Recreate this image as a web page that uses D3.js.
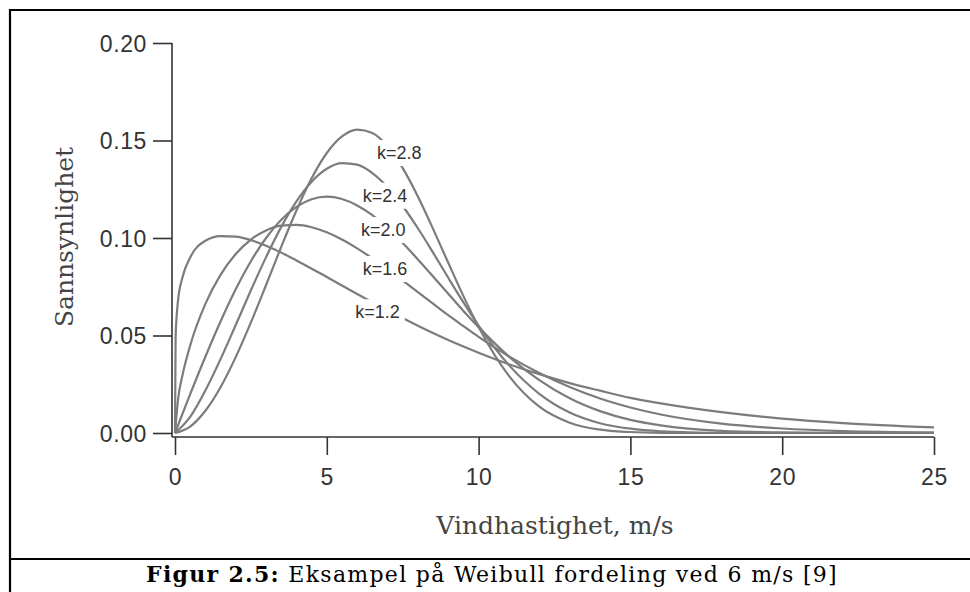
<!DOCTYPE html>
<html>
<head>
<meta charset="utf-8">
<script src="https://cdn.jsdelivr.net/npm/d3@7"></script>
<style>
  body { margin: 0; background: #fff; }
  .chart { width: 970px; height: 592px; }
  .axis text { font-family: "Liberation Sans", Arial, sans-serif; font-size: 23px; fill: #333; letter-spacing: 0.6px; }
  .axis line { stroke: #333; stroke-width: 1.6; }
  .axis__title { font-family: "DejaVu Serif", serif; font-size: 25px; fill: #444; }
  .curve { fill: none; stroke: #7c7c7c; stroke-width: 2.2; }
  .curve__label { font-family: "Liberation Sans", Arial, sans-serif; font-size: 18px; fill: #333; }
  .caption { font-family: "DejaVu Serif", serif; font-size: 22px; letter-spacing: 1.3px; fill: #000; }
  .frame { stroke: #000; stroke-width: 2.2; }
</style>
</head>
<body>
<div class="chart"></div>
<script>
/* global d3 */

// Weibull curves, values (wind speed m/s, probability)
const k12 = [[0, 0], [0.02, 0.049], [0.05, 0.059], [0.1, 0.068], [0.25, 0.080], [0.5, 0.090], [1, 0.0986], [1.5, 0.101], [2, 0.1007], [2.5, 0.0989], [3, 0.096], [3.5, 0.0925], [4, 0.0885], [5, 0.080], [6, 0.0713], [7, 0.0629], [8, 0.055], [9, 0.0477], [10, 0.0412], [11, 0.0353], [12, 0.0302], [13, 0.0256], [14, 0.0217], [15, 0.0180], [16, 0.0152], [18, 0.0107], [20, 0.0074], [22, 0.0051], [25, 0.0029]]
const k16 = [[0, 0], [0.1, 0.0173], [0.25, 0.0299], [0.5, 0.0449], [1, 0.0662], [1.5, 0.0811], [2, 0.0918], [2.5, 0.0992], [3, 0.1039], [3.5, 0.1063], [4, 0.1067], [4.5, 0.1055], [5, 0.1029], [5.5, 0.0992], [6, 0.0947], [6.5, 0.0896], [7, 0.0841], [7.5, 0.0782], [8, 0.0723], [8.5, 0.0663], [9, 0.0604], [9.5, 0.0548], [10, 0.0493], [11, 0.0393], [12, 0.0308], [13, 0.0236], [14, 0.0177], [15, 0.0131], [16, 0.0095], [18, 0.0048], [20, 0.0023], [22, 0.0010], [25, 0.0003]]
const k20 = [[0, 0], [0.5, 0.0199], [1, 0.0391], [1.5, 0.0572], [2, 0.0737], [2.5, 0.0881], [3, 0.1000], [3.5, 0.1094], [4, 0.1160], [4.5, 0.1199], [5, 0.1212], [5.5, 0.1200], [6, 0.1167], [6.5, 0.1117], [7, 0.1051], [7.5, 0.0974], [8, 0.0890], [8.5, 0.0803], [9, 0.0714], [9.5, 0.0626], [10, 0.0543], [11, 0.0392], [12, 0.0271], [13, 0.0178], [14, 0.0112], [15, 0.0067], [16, 0.0039], [18, 0.0011], [20, 0.0003], [22, 0.0001], [25, 0]]
const k24 = [[0, 0], [0.5, 0.0083], [1, 0.0218], [1.5, 0.0379], [2, 0.0554], [2.5, 0.0732], [3, 0.0902], [3.5, 0.1057], [4, 0.1188], [4.5, 0.1289], [5, 0.1355], [5.5, 0.1384], [6, 0.1376], [6.5, 0.1333], [7, 0.1261], [7.5, 0.1164], [8, 0.1050], [8.5, 0.0925], [9, 0.0796], [9.5, 0.0670], [10, 0.0551], [11, 0.0348], [12, 0.0201], [13, 0.0105], [14, 0.0050], [15, 0.0022], [16, 0.0009], [18, 0.0001], [20, 0], [25, 0]]
const k28 = [[0, 0], [0.5, 0.0033], [1, 0.0114], [1.5, 0.0235], [2, 0.0389], [2.5, 0.0567], [3, 0.0759], [3.5, 0.0955], [4, 0.1141], [4.5, 0.1306], [5, 0.1436], [5.5, 0.1521], [6, 0.1556], [6.5, 0.1538], [7, 0.1470], [7.5, 0.1358], [8, 0.1213], [8.5, 0.1047], [9, 0.0873], [9.5, 0.0702], [10, 0.0544], [11, 0.0293], [12, 0.0135], [13, 0.0053], [14, 0.0017], [15, 0.0005], [16, 0.0001], [18, 0], [25, 0]]

const seriesNames = ['k=1.2', 'k=1.6', 'k=2.0', 'k=2.4', 'k=2.8']
const seriesValues = [k12, k16, k20, k24, k28]

const xTicks = [0, 5, 10, 15, 20, 25]
const yTicks = [0, 0.05, 0.10, 0.15, 0.20]

const xTitle = 'Vindhastighet, m/s'
const yTitle = 'Sannsynlighet'
const captionBold = 'Figur 2.5:'
const captionText = ' Eksampel på Weibull fordeling ved 6 m/s [9]'

// where each label sits on its curve (data units, centre / baseline)
const labelAt = [[6.67, 0.0588], [6.92, 0.081], [6.86, 0.101], [6.92, 0.1186], [7.39, 0.1405]]

const width = 970
const height = 592

const svg = d3.select('.chart')
  .append('svg')
  .attr('width', width)
  .attr('height', height)

const x = d3.scaleLinear()
  .domain([0, 25])
  .range([175, 934])

const y = d3.scaleLinear()
  .domain([0, 0.2])
  .range([433, 43])

const axisX0 = 172   // y axis line sits a little left of x=0
const axisY0 = 437   // x axis line a little below y=0

// frame round figure and caption
svg.append('line').attr('class', 'frame').attr('x1', 10).attr('x2', width).attr('y1', 10).attr('y2', 10)
svg.append('line').attr('class', 'frame').attr('x1', 10).attr('x2', 10).attr('y1', 9).attr('y2', height)
svg.append('line').attr('class', 'frame').attr('x1', 10).attr('x2', width).attr('y1', 559).attr('y2', 559)

// Y axis
const gy = svg.append('g')
  .attr('class', 'axis axis__y')
  .attr('transform', `translate(${axisX0}, 0)`)
  .call(
    d3.axisLeft(y)
      .tickValues(yTicks)
      .tickSize(19)
      .tickSizeOuter(0)
      .tickPadding(6)
      .tickFormat(d3.format('.2f'))
  )
gy.select('.domain').remove()
gy.selectAll('text').attr('dy', '0.36em')
gy.append('line')
  .attr('x1', 0).attr('x2', 0)
  .attr('y1', y(0.2)).attr('y2', axisY0)

// X axis
const gx = svg.append('g')
  .attr('class', 'axis axis__x')
  .attr('transform', `translate(0, ${axisY0})`)
  .call(
    d3.axisBottom(x)
      .tickValues(xTicks)
      .tickSize(18)
      .tickSizeOuter(0)
      .tickPadding(14)
  )
gx.select('.domain').remove()
gx.append('line')
  .attr('x1', axisX0).attr('x2', x(25))
  .attr('y1', 0).attr('y2', 0)

// axis titles
svg.append('text')
  .attr('class', 'axis__title')
  .attr('text-anchor', 'middle')
  .attr('transform', `translate(73, 237) rotate(-90)`)
  .text(yTitle)

svg.append('text')
  .attr('class', 'axis__title')
  .attr('text-anchor', 'middle')
  .attr('x', 555)
  .attr('y', 534)
  .text(xTitle)

// caption
const caption = svg.append('text')
  .attr('class', 'caption')
  .attr('text-anchor', 'middle')
  .attr('x', 492)
  .attr('y', 582)
caption.append('tspan').attr('font-weight', 'bold').text(captionBold)
caption.append('tspan').text(captionText)

// labels first, so each curve can be masked where its own label sits
const defs = svg.append('defs')
const line = d3.line()
  .x(d => x(d[0]))
  .y(d => y(d[1]))
  .curve(d3.curveMonotoneX)

const curves = svg.append('g')
const labels = svg.append('g')

seriesNames.forEach((name, i) => {
  const label = labels.append('text')
    .attr('class', 'curve__label')
    .attr('text-anchor', 'middle')
    .attr('x', x(labelAt[i][0]))
    .attr('y', y(labelAt[i][1]))
    .text(name)

  const box = label.node().getBBox()
  const mask = defs.append('mask')
    .attr('id', `mask-${i}`)
    .attr('maskUnits', 'userSpaceOnUse')
    .attr('x', 0).attr('y', 0)
    .attr('width', width).attr('height', height)
  mask.append('rect')
    .attr('width', width).attr('height', height)
    .attr('fill', '#fff')
  mask.append('rect')
    .attr('x', box.x - 5)
    .attr('y', box.y - 3)
    .attr('width', box.width + 10)
    .attr('height', box.height + 6)
    .attr('fill', '#000')

  curves.append('path')
    .datum(seriesValues[i])
    .attr('class', 'curve')
    .attr('mask', `url(#mask-${i})`)
    .attr('d', line)
})
</script>
</body>
</html>
